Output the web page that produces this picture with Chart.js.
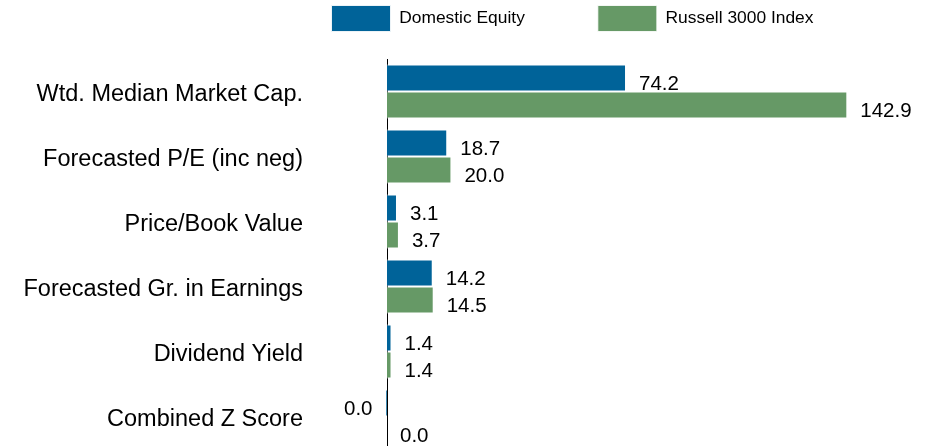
<!DOCTYPE html>
<html>
<head>
<meta charset="utf-8">
<script src="https://cdn.jsdelivr.net/npm/chart.js@4"></script>
<style>
  html, body { margin: 0; padding: 0; background: #fff; overflow: hidden; }
  #wrap { width: 932px; height: 449px; position: relative; }
</style>
</head>
<body>
<div id="wrap"><canvas id="c"></canvas></div>
<script>
const categories = ['Wtd. Median Market Cap.', 'Forecasted P/E (inc neg)', 'Price/Book Value', 'Forecasted Gr. in Earnings', 'Dividend Yield', 'Combined Z Score'];
const seriesNames = ['Domestic Equity', 'Russell 3000 Index'];
const domesticEquity = [74.2, 18.7, 3.1, 14.2, 1.4, -0.04];
const russell3000 = [142.9, 20.0, 3.7, 14.5, 1.4, 0.0];

const BLUE = '#006399';
const GREEN = '#669966';
const FONT = "'Liberation Sans', Arial, sans-serif";

const valueLabels = {
  id: 'valueLabels',
  beforeDatasetsDraw(chart) {
    const ctx = chart.ctx;
    ctx.save();
    ctx.font = '20.5px ' + FONT;
    ctx.fillStyle = '#000';
    ctx.textBaseline = 'middle';
    chart.data.datasets.forEach((ds, i) => {
      const meta = chart.getDatasetMeta(i);
      meta.data.forEach((bar, j) => {
        const v = ds.data[j];
        const txt = (Math.round(v * 10) / 10 || 0).toFixed(1);
        if (v < 0) {
          ctx.textAlign = 'right';
          ctx.fillText(txt, bar.x - 13, bar.y + 6.5);
        } else {
          ctx.textAlign = 'left';
          ctx.fillText(txt, bar.x + 13, bar.y + 6.5);
        }
      });
    });
    ctx.restore();
  }
};

const legendPlace = {
  id: 'legendPlace',
  beforeDraw(chart) {
    const lg = chart.legend;
    if (!lg) return;
    const pad = lg.options.labels.padding;
    lg.left = 331.5 - pad;
    lg.top = 5.5 - pad;
  }
};

new Chart(document.getElementById('c'), {
  type: 'bar',
  data: {
    labels: categories,
    datasets: [
      { label: seriesNames[0], data: domesticEquity, backgroundColor: BLUE, borderColor: 'rgba(255,255,255,0.85)', borderWidth: 1, minBarLength: 1.5, clip: false },
      { label: seriesNames[1], data: russell3000, backgroundColor: GREEN, borderColor: 'rgba(255,255,255,0.85)', borderWidth: 1, clip: false }
    ]
  },
  options: {
    indexAxis: 'y',
    responsive: true,
    maintainAspectRatio: false,
    animation: false,
    events: [],
    datasets: { bar: { categoryPercentage: 0.83, barPercentage: 1.0 } },
    layout: { padding: { left: 0, right: 29.6, top: 0, bottom: 0 } },
    scales: {
      x: { display: false, min: 0, max: 160 },
      y: {
        position: 'left',
        grid: { display: true, color: 'transparent', drawTicks: false },
        border: { display: true, color: '#000', width: 1 },
        ticks: { color: '#000', font: { family: FONT, size: 23.5 }, padding: 84, labelOffset: 3.4, autoSkip: false },
        afterFit(scale) { scale.width = 387; scale.paddingTop = 0; scale.paddingBottom = 0; }
      }
    },
    plugins: {
      legend: {
        position: 'top',
        align: 'start',
        maxHeight: 59,
        labels: { boxWidth: 59, boxHeight: 26, padding: 73, color: '#000', font: { family: FONT, size: 17.4 } }
      },
      tooltip: { enabled: false }
    }
  },
  plugins: [valueLabels, legendPlace]
});
</script>
</body>
</html>
